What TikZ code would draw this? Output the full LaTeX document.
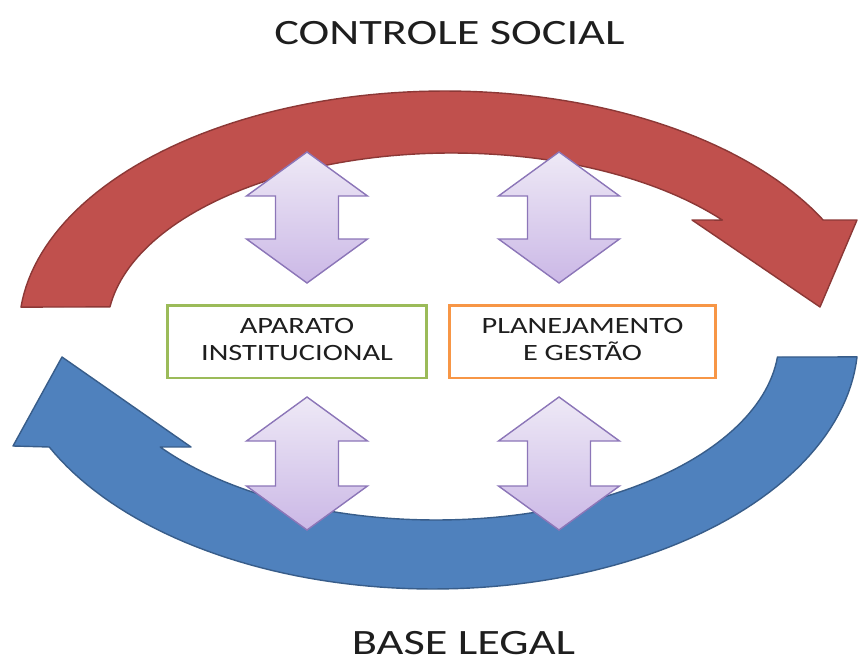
\documentclass[tikz,border=0pt]{standalone}
\usepackage{fontspec}
\setmainfont{Carlito}
\definecolor{redfill}{HTML}{C0504D}
\definecolor{redline}{HTML}{8C3836}
\definecolor{bluefill}{HTML}{4F81BD}
\definecolor{blueline}{HTML}{385D8A}
\definecolor{lavtop}{HTML}{EEE9F6}
\definecolor{lavbot}{HTML}{CBB8E6}
\definecolor{lavline}{HTML}{8C76B8}
\definecolor{boxgreen}{HTML}{9BBB59}
\definecolor{boxorange}{HTML}{F79646}
\definecolor{txt}{HTML}{1E1E1E}
\newcommand{\hstretch}[1]{\scalebox{1.3}[1]{#1}}
\newcommand{\DblArrow}[3]{%
  \shadedraw[lavarrow] (#1,#2) -- ({#1+60.5},{#2+44}) -- ({#1+31.5},{#2+44})
    -- ({#1+31.5},{#3-44}) -- ({#1+60.5},{#3-44}) -- (#1,#3)
    -- ({#1-60.5},{#3-44}) -- ({#1-31.5},{#3-44}) -- ({#1-31.5},{#2+44})
    -- ({#1-60.5},{#2+44}) -- cycle;}
\begin{document}
\begin{tikzpicture}[x=0.02cm,y=-0.02cm,
  redarrow/.style={fill=redfill,draw=redline,line width=0.8pt,line join=round},
  bluearrow/.style={fill=bluefill,draw=blueline,line width=0.8pt,line join=round},
  lavarrow/.style={top color=lavtop,bottom color=lavbot,draw=lavline,line width=0.8pt,line join=miter},
  box/.style={draw,fill=white,line width=1.7pt,inner sep=0pt,text=txt,
    font=\fontsize{13.3}{15.4}\selectfont},
  title/.style={inner sep=0pt,text=txt,font=\fontsize{20.3}{24}\selectfont}]
\useasboundingbox (0,0) rectangle (858,662);
% red circular arrow (top)
\draw[redarrow] plot[domain=174.5:27.4,samples=90] ({445+426*cos(\x)},{330-239*sin(\x)})
  -- (857,220) -- (820,307) -- (692,220)
  -- plot[domain=38.4:172.5,samples=90] ({452+345*cos(\x)},{330-177*sin(\x)}) -- cycle;
% blue circular arrow (bottom)
\draw[bluearrow] plot[domain=-3.9:-154.55,samples=90] ({433+425*cos(\x)},{340-249*sin(\x)})
  -- (13,446) -- (62,357) -- (191,447)
  -- plot[domain=-143.53:-5.42,samples=90] ({436+343*cos(\x)},{340-180*sin(\x)}) -- cycle;
% double arrows
\DblArrow{307}{152}{283}
\DblArrow{559}{152}{283}
\DblArrow{307}{397}{530}
\DblArrow{559}{397}{530}
% boxes
\node[box,draw=boxgreen,minimum width=5.2cm,minimum height=1.46cm] (apar) at (297,341.5)
  {\hstretch{\begin{tabular}{@{}c@{}}APARATO\\INSTITUCIONAL\end{tabular}}};
\node[box,draw=boxorange,minimum width=5.34cm,minimum height=1.46cm] (plan) at (582.5,341.5)
  {\hstretch{\begin{tabular}{@{}c@{}}PLANEJAMENTO\\E GESTÃO\end{tabular}}};
% titles
\node[title] (ctrl) at (449.5,33.5) {\hstretch{CONTROLE SOCIAL}};
\node[title] (base) at (463.5,643.5) {\hstretch{BASE LEGAL}};
\end{tikzpicture}
\end{document}
